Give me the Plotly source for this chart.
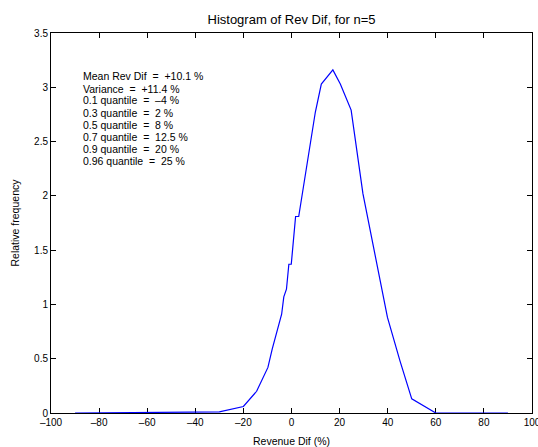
import plotly.graph_objects as go

# Histogram curve (bin centre %, relative frequency)
rev_dif = [-90, -30, -20, -14.5, -9.8, -8, -4.1, -3.2, -2.1, -1.1, -0.1, 0.8, 1.7, 3.0, 3.7,
           7.2, 9.9, 12.4, 17.2, 20.3, 24.8, 29.7, 34.8, 39.9, 45.1, 50, 60, 90]
rel_freq = [0, 0.01, 0.06, 0.20, 0.42, 0.59, 0.91, 1.07, 1.14, 1.37, 1.37, 1.60, 1.81, 1.81, 1.91,
            2.39, 2.77, 3.03, 3.16, 3.03, 2.79, 2.02, 1.44, 0.88, 0.48, 0.13, 0, 0]

NB2 = "\u00a0\u00a0"
stats_lines = [
    "Mean Rev Dif" + NB2 + "=" + NB2 + "+10.1 %",
    "Variance" + NB2 + "=" + NB2 + "+11.4 %",
    "0.1 quantile" + NB2 + "=" + NB2 + "\u20134 %",
    "0.3 quantile" + NB2 + "=" + NB2 + "2 %",
    "0.5 quantile" + NB2 + "=" + NB2 + "8 %",
    "0.7 quantile" + NB2 + "=" + NB2 + "12.5 %",
    "0.9 quantile" + NB2 + "=" + NB2 + "20 %",
    "0.96 quantile" + NB2 + "=" + NB2 + "25 %",
]

x_ticks = list(range(-100, 101, 20))
x_tick_text = [("\u2013" + str(-v)) if v < 0 else str(v) for v in x_ticks]
y_ticks = [0, 0.5, 1, 1.5, 2, 2.5, 3, 3.5]
y_tick_text = ["0", "0.5", "1", "1.5", "2", "2.5", "3", "3.5"]

FONT = "Liberation Sans, Arial, Helvetica, sans-serif"

fig = go.Figure()
fig.add_trace(go.Scatter(x=rev_dif, y=rel_freq, mode="lines",
                         line=dict(color="#0000ff", width=1.2), showlegend=False))

ML, MR, MT, MB = 51, 6, 33, 34
W, H = 538, 447
pw = W - ML - MR
ph = H - MT - MB
for i, line in enumerate(stats_lines):
    ypix = 76.5 + 12 * i
    fig.add_annotation(text=line, xref="paper", yref="paper",
                       x=(81 - ML) / pw, y=1 - (ypix - MT) / ph,
                       xanchor="left", yanchor="middle", showarrow=False,
                       font=dict(family=FONT, size=10.5, color="black"))

fig.update_layout(
    width=W, height=H,
    margin=dict(l=ML, r=MR, t=MT, b=MB),
    paper_bgcolor="white", plot_bgcolor="white",
    font=dict(family=FONT, size=10, color="black"),
    title=dict(text="Histogram of Rev Dif, for n=5", x=(ML + pw / 2) / W, xanchor="center",
               y=1 - 19 / H, yanchor="middle", font=dict(size=13, color="black")),
    xaxis=dict(range=[-100, 100], tickvals=x_ticks, ticktext=x_tick_text,
               ticks="inside", ticklen=5, tickcolor="black", showline=True, linecolor="black",
               linewidth=1, mirror="allticks", showgrid=False, zeroline=False,
               layer="below traces", ticklabeloverflow="allow", automargin=False,
               title=dict(text="Revenue Dif (%)", standoff=10, font=dict(size=10.5))),
    yaxis=dict(range=[0, 3.5], tickvals=y_ticks, ticktext=y_tick_text,
               ticks="inside", ticklen=5, tickcolor="black", showline=True, linecolor="black",
               linewidth=1, mirror="allticks", showgrid=False, zeroline=False,
               automargin=False,
               title=dict(text="Relative frequency", standoff=12, font=dict(size=10.5))),
)

fig.write_html("out.html")
